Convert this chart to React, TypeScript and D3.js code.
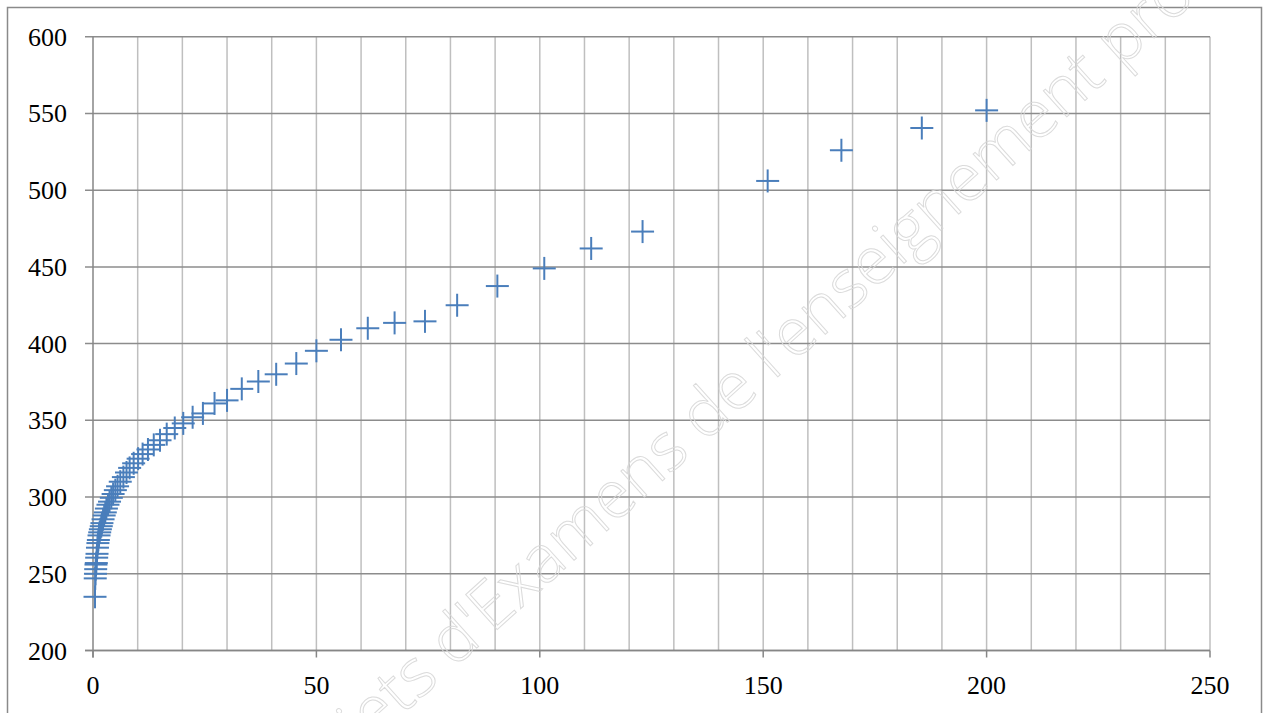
import React from "react";
import * as d3 from "d3";

// x values
const xValues = [
  200, 185.5, 167.5, 151, 123, 111.5, 101, 90.5, 81.5, 74.3, 67.5, 61.5, 55.5, 50,
  45.5, 41, 37, 33.3, 30, 27.2, 24.6, 22.3, 20.2, 18.3, 16.5, 15, 13.6, 12.3, 11.1,
  10.1, 9.1, 8.2, 7.5, 6.8, 6.1, 5.5, 5.0, 4.5, 4.1, 3.7, 3.35, 3.0, 2.75, 2.5, 2.25,
  2.0, 1.85, 1.65, 1.5, 1.35, 1.2, 1.1, 1.0, 0.9, 0.82, 0.74, 0.67, 0.6, 0.55, 0.5, 0.45,
];
// y values
const yValues = [
  552, 540.5, 526, 506, 473, 462, 449, 437.5, 425, 414.5, 413.5, 410, 402.5, 395.3,
  387, 380, 375.3, 370.5, 363, 361, 354.5, 352, 348, 345, 341, 337, 334, 331, 328,
  325, 322, 319, 316, 313, 310, 307, 304.5, 302, 299.5, 297, 295, 292.5, 290, 288, 285.5,
  283, 281, 279, 277, 275, 272, 270, 267, 263, 260.5, 257, 256, 253, 250, 247, 235,
];
const xTicks = [0, 50, 100, 150, 200, 250];
const xMinorGrid = d3.range(10, 251, 10);
const yTicks = [200, 250, 300, 350, 400, 450, 500, 550, 600];
const watermark = "Sujets d'Examens de l'enseignement professionnel";

const W = 1264;
const H = 713;
const left = 93;
const right = 1210;
const top = 36.7;
const bottom = 650.5;

export default function App() {
  const x = d3.scaleLinear().domain([0, 250]).range([left, right]);
  const y = d3.scaleLinear().domain([200, 600]).range([bottom, top]);
  const blue = "#4A7EBB";
  const s = 11.5;
  const font = "'Liberation Serif', 'Times New Roman', serif";

  return (
    <svg
      width={W}
      height={H}
      style={{ position: "absolute", left: 0, top: 0, background: "#fff" }}
    >
      <rect x={0} y={0} width={W} height={H} fill="#fff" />
      {/* outer border */}
      <rect x={7.5} y={7.5} width={1254} height={H + 20} fill="none" stroke="#8a8a8a" strokeWidth={1.5} />

      {/* vertical minor grid */}
      {xMinorGrid.map((v) => (
        <line key={"vg" + v} x1={x(v)} x2={x(v)} y1={top} y2={bottom} stroke="#bfbfbf" strokeWidth={1.5} />
      ))}
      {/* horizontal major grid */}
      {yTicks.map((v) => (
        <line key={"hg" + v} x1={left - 8} x2={right} y1={y(v)} y2={y(v)} stroke="#8c8c8c" strokeWidth={1.5} />
      ))}
      {/* axes */}
      <line x1={left} x2={left} y1={top} y2={bottom + 7} stroke="#868686" strokeWidth={1.5} />
      <line x1={left - 8} x2={right} y1={bottom} y2={bottom} stroke="#868686" strokeWidth={1.5} />
      {xTicks.map((v) => (
        <line key={"xt" + v} x1={x(v)} x2={x(v)} y1={bottom} y2={bottom + 7} stroke="#868686" strokeWidth={1.5} />
      ))}

      {/* tick labels */}
      {yTicks.map((v) => (
        <text key={"yl" + v} x={67} y={y(v) + 9} textAnchor="end" fontFamily={font} fontSize={26} fill="#000">
          {v}
        </text>
      ))}
      {xTicks.map((v) => (
        <text key={"xl" + v} x={x(v)} y={694} textAnchor="middle" fontFamily={font} fontSize={26} fill="#000">
          {v}
        </text>
      ))}

      {/* markers */}
      {xValues.map((xv, i) => {
        const cx = x(xv);
        const cy = y(yValues[i]);
        return (
          <g key={"m" + i} stroke={blue} strokeWidth={2}>
            <line x1={cx - s} x2={cx + s} y1={cy} y2={cy} />
            <line x1={cx} x2={cx} y1={cy - s} y2={cy + s} />
          </g>
        );
      })}

      {/* watermark */}
      <text
        transform="translate(308,800) rotate(-42)"
        fontFamily="'Open Sans', sans-serif"
        fontWeight={300}
        fontSize={66}
        fill="none"
        stroke="#d8d8d8"
        strokeWidth={1}
        opacity={0.9}
      >
        {watermark}
      </text>
    </svg>
  );
}
